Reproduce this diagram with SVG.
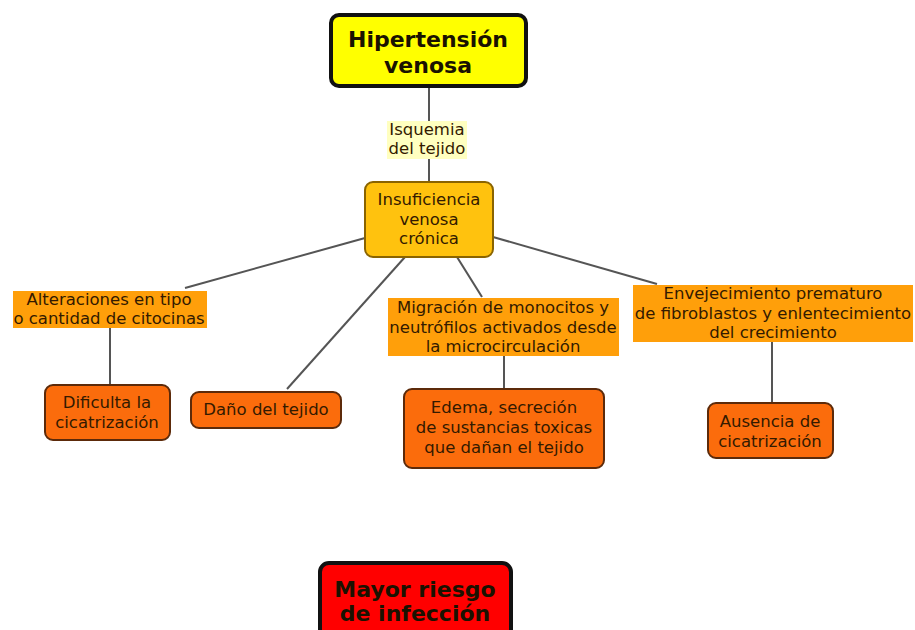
<svg xmlns="http://www.w3.org/2000/svg" width="915" height="630" viewBox="0 0 915 630">
<style>
text{font-family:"DejaVu Sans","Liberation Sans",sans-serif;text-anchor:middle;}
.t{font-size:16.5px;fill:#331a00;}
.big{font-size:22px;font-weight:bold;fill:#1a1200;}
.lab{fill:#ff9f0a;}
.ob{fill:#fb6c0c;stroke:#5c2a0a;stroke-width:2;}
.c line{stroke:#555;stroke-width:2;}
</style>
<rect width="915" height="630" fill="#fff"/>
<g class="c" id="connectors">
<line x1="429" y1="87" x2="429" y2="182"/>
<line x1="365" y1="238" x2="185" y2="288"/>
<line x1="405" y1="257" x2="287" y2="389"/>
<line x1="457" y1="257" x2="482" y2="297"/>
<line x1="493" y1="237" x2="657" y2="284"/>
<line x1="110" y1="327" x2="110" y2="385"/>
<line x1="504" y1="356" x2="504" y2="389"/>
<line x1="772" y1="342" x2="772" y2="403"/>
</g>
<g id="hipertension">
<rect x="331" y="15" width="195" height="71" rx="8" fill="#ffff00" stroke="#111" stroke-width="4"/>
<text class="big" x="428" y="47">Hipertensión</text>
<text class="big" x="428" y="73">venosa</text>
</g>
<g id="isquemia">
<rect x="387" y="121" width="80" height="38" fill="#ffffc0"/>
<text class="t" x="427" y="135">Isquemia</text>
<text class="t" x="427" y="154">del tejido</text>
</g>
<g id="insuficiencia">
<rect x="365" y="182" width="128" height="75" rx="8" fill="#ffc20e" stroke="#8a6400" stroke-width="2"/>
<text class="t" x="429" y="205">Insuficiencia</text>
<text class="t" x="429" y="225">venosa</text>
<text class="t" x="429" y="244">crónica</text>
</g>
<g id="alteraciones">
<rect class="lab" x="13" y="291" width="194" height="37"/>
<text class="t" x="109" y="305">Alteraciones en tipo</text>
<text class="t" x="109" y="324">o cantidad de citocinas</text>
</g>
<g id="migracion">
<rect class="lab" x="388" y="298" width="231" height="58"/>
<text class="t" x="503" y="313">Migración de monocitos y</text>
<text class="t" x="503" y="333">neutrófilos activados desde</text>
<text class="t" x="503" y="352">la microcirculación</text>
</g>
<g id="envejecimiento">
<rect class="lab" x="633" y="285" width="280" height="57"/>
<text class="t" x="773" y="299">Envejecimiento prematuro</text>
<text class="t" x="773" y="319">de fibroblastos y enlentecimiento</text>
<text class="t" x="773" y="338">del crecimiento</text>
</g>
<g id="dificulta">
<rect class="ob" x="45" y="385" width="125" height="55" rx="8"/>
<text class="t" x="107" y="408">Dificulta la</text>
<text class="t" x="107" y="428">cicatrización</text>
</g>
<g id="dano">
<rect class="ob" x="191" y="392" width="150" height="36" rx="8"/>
<text class="t" x="266" y="415">Daño del tejido</text>
</g>
<g id="edema">
<rect class="ob" x="404" y="389" width="200" height="79" rx="8"/>
<text class="t" x="504" y="413">Edema, secreción</text>
<text class="t" x="504" y="433">de sustancias toxicas</text>
<text class="t" x="504" y="453">que dañan el tejido</text>
</g>
<g id="ausencia">
<rect class="ob" x="708" y="403" width="125" height="55" rx="8"/>
<text class="t" x="770" y="427">Ausencia de</text>
<text class="t" x="770" y="447">cicatrización</text>
</g>
<g id="mayor">
<rect x="320" y="563" width="191" height="80" rx="9" fill="#ff0000" stroke="#111" stroke-width="4"/>
<text class="big" x="415" y="597" fill="#2a0000">Mayor riesgo</text>
<text class="big" x="415" y="621" fill="#2a0000">de infección</text>
</g>
</svg>
